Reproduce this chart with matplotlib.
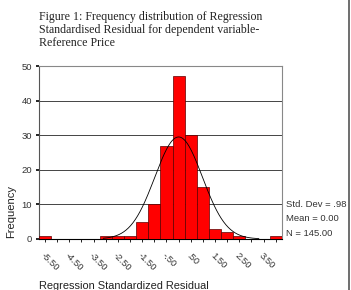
import numpy as np
import matplotlib
matplotlib.use("Agg")
import matplotlib.pyplot as plt

# histogram of standardized residuals, bin width 0.5
bin_centers = [-5.5, -5.0, -4.5, -4.0, -3.5, -3.0, -2.5, -2.0, -1.5, -1.0,
               -0.5, 0.0, 0.5, 1.0, 1.5, 2.0, 2.5, 3.0, 3.5, 4.0]
counts = [1, 0, 0, 0, 0, 1, 1, 1, 5, 10,
          27, 47, 30, 15, 3, 2, 1, 0, 0, 1]
tick_vals = [-5.5, -4.5, -3.5, -2.5, -1.5, -0.5, 0.5, 1.5, 2.5, 3.5]
tick_labels = ["-5.50", "-4.50", "-3.50", "-2.50", "-1.50", "-.50", ".50", "1.50", "2.50", "3.50"]
std_dev = 0.98
mean = 0.0
n_obs = 145
stats_lines = ["Std. Dev = .98", "Mean = 0.00", "N = 145.00"]

title = ("Figure 1: Frequency distribution of Regression\n"
         "Standardised Residual for dependent variable-\n"
         "Reference Price")

width = 0.5
sans = "Liberation Sans"

fig = plt.figure(figsize=(3.51, 2.90), dpi=100)
ax = fig.add_axes([0.111, 0.176, 0.692, 0.596])

ax.bar(bin_centers, counts, width=width, color="#ff0000",
       edgecolor="#5a0000", linewidth=0.5, zorder=3)

# normal curve scaled to counts
xs = np.linspace(-3.1, 3.3, 200)
ys = n_obs * width / (std_dev * np.sqrt(2 * np.pi)) * np.exp(-0.5 * ((xs - mean) / std_dev) ** 2)
ax.plot(xs, ys, color="black", linewidth=0.6, zorder=4)

ax.set_xlim(-5.75, 4.25)
ax.set_ylim(0, 50)
ax.set_yticks([0, 10, 20, 30, 40, 50])
ax.set_yticklabels(["0", "10", "20", "30", "40", "50"], fontsize=6.8,
                   color="#333333", family=sans)
ax.set_xticks(bin_centers)
ax.set_xticklabels([tick_labels[tick_vals.index(c)] if c in tick_vals else "" for c in bin_centers],
                   rotation=-45, ha="left", va="top", rotation_mode="anchor",
                   fontsize=6.8, color="#333333", family=sans)
ax.tick_params(axis="x", length=2, width=0.6, pad=7)
ax.tick_params(axis="y", length=2, width=1.2, pad=3)

for yv in [10, 20, 30, 40]:
    ax.axhline(yv, color="#444444", linewidth=0.7, zorder=1)

ax.spines["top"].set_color("#888888")
ax.spines["right"].set_color("#888888")
ax.spines["left"].set_color("#555555")
ax.spines["bottom"].set_color("black")
for s in ax.spines.values():
    s.set_linewidth(0.8)

ax.set_ylabel("Frequency", fontsize=8, family=sans, color="#222222")
ax.yaxis.set_label_coords(-0.095, 0.16)

for i, line in enumerate(stats_lines):
    fig.text(0.815, 0.296 - i * 0.05, line, fontsize=6.8, family=sans,
             color="#333333", va="center", ha="left")

fig.text(0.111, -0.003, "Regression Standardized Residual", fontsize=7.9,
         family=sans, color="#222222", va="bottom", ha="left")

fig.text(0.111, 0.962, title, fontsize=8.6, family="Liberation Serif",
         color="#222222", va="top", ha="left", linespacing=1.12)

# page border on the right
fig.add_artist(plt.Line2D([0.994, 0.994], [0, 1], color="#555555", linewidth=1.2))

fig.savefig("out.png", dpi=100)
